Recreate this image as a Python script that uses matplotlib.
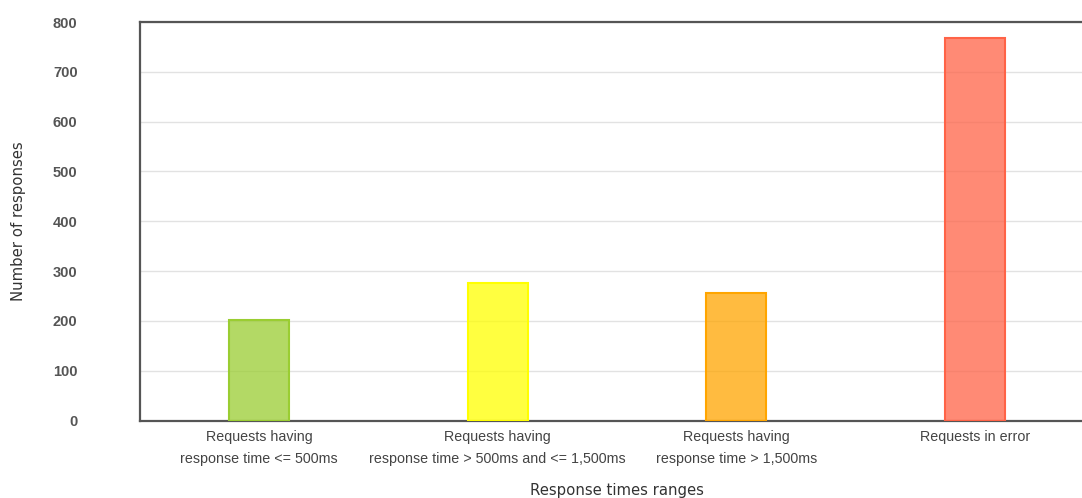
import matplotlib
matplotlib.use("Agg")
import matplotlib.pyplot as plt

categories = [
    "Requests having\nresponse time <= 500ms",
    "Requests having\nresponse time > 500ms and <= 1,500ms",
    "Requests having\nresponse time > 1,500ms",
    "Requests in error",
]
counts = [201, 277, 256, 768]
colors = ["#9ACD32", "#FFFF00", "#FFA500", "#FF6347"]
yticks = [0, 100, 200, 300, 400, 500, 600, 700, 800]

plt.rcParams["font.family"] = ["Liberation Sans", "DejaVu Sans"]

fig = plt.figure(figsize=(10.82, 4.98), dpi=100)
ax = fig.add_axes([140 / 1082, 77.5 / 498, 954 / 1082, 398.5 / 498])

x = list(range(len(categories)))
for i in x:
    ax.bar(i, counts[i], width=0.25, color=colors[i], alpha=0.75, zorder=3)
    ax.bar(i, counts[i], width=0.25, fill=False, edgecolor=colors[i],
           linewidth=1.5, zorder=4)

ax.set_xlim(-0.5, 3.5)
ax.set_ylim(0, 800)
ax.set_yticks(yticks)
ax.set_xticks(x)
ax.set_xticklabels(categories, fontsize=10.3, color="#444444", linespacing=1.75)
ax.tick_params(axis="x", length=0, pad=7)
ax.tick_params(axis="y", length=0, pad=45, labelsize=10.5, labelcolor="#555555")
for lbl in ax.get_yticklabels():
    lbl.set_fontweight("bold")

ax.grid(axis="y", color="#e2e2e2", linewidth=1, zorder=0)
ax.set_axisbelow(True)

for side in ["left", "bottom", "top"]:
    ax.spines[side].set_color("#555555")
    ax.spines[side].set_linewidth(1.6)
ax.spines["right"].set_visible(False)

ax.set_ylabel("Number of responses", fontsize=10.7, color="#333333",
              family="DejaVu Sans")
ax.set_xlabel("Response times ranges", fontsize=10.7, color="#333333",
              family="DejaVu Sans")
ax.yaxis.set_label_coords(-114 / 954, 0.5)
ax.xaxis.set_label_coords((617 - 140) / 954, -62 / 398.5)

fig.savefig("out.png", dpi=100)
